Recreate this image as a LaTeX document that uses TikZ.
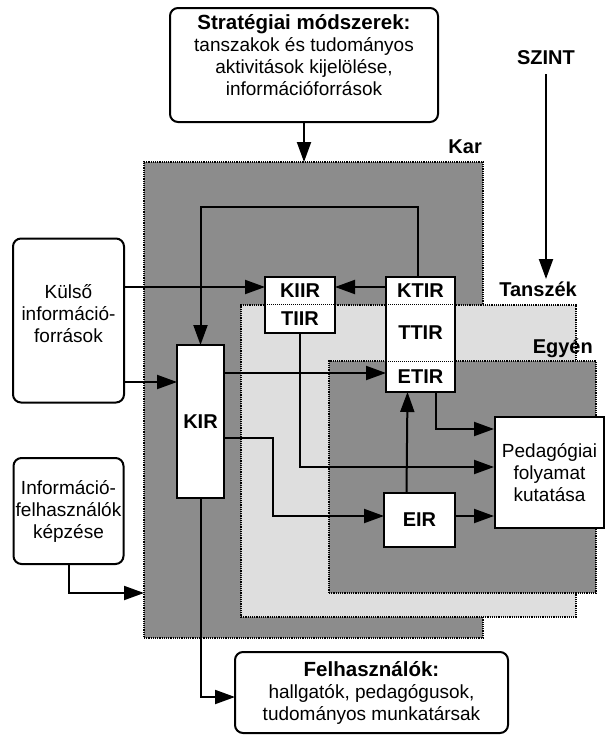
\documentclass[tikz,border=0pt]{standalone}
\usepackage{fontspec}
\setmainfont{Liberation Sans}
\usetikzlibrary{arrows.meta}

\newcommand{\boxhead}[1]{{\bfseries\fontsize{20.5}{22}\selectfont #1}}

\tikzset{
  txt/.style={font=\fontsize{19}{22}\selectfont, align=center, inner sep=0pt},
  srcbox/.style={draw, line width=2pt, rounded corners=8pt, fill=white, inner sep=0pt, outer sep=0pt},
  irbox/.style={fill=white, inner sep=0pt, outer sep=0pt, font=\bfseries\fontsize{20}{22}\selectfont},
  boxline/.style={line width=2pt},
  divider/.style={densely dotted, line width=1pt},
  level/.style={draw, densely dotted, line width=1.2pt, inner sep=0pt, outer sep=0pt},
  levellabel/.style={font=\bfseries\fontsize{20}{22}\selectfont, inner sep=0pt},
  flow/.style={line width=2pt, -{Triangle[length=20pt,width=14pt]}},
}

\begin{document}
\begin{tikzpicture}[x=1pt, y=-1pt]
\useasboundingbox (0,0) rectangle (610,736);

% levels
\node[level, fill=black!45, minimum width=339pt, minimum height=476pt] (kar) at (313.5,400) {};
\node[level, fill=black!13, minimum width=335pt, minimum height=312pt] (tanszek) at (408.5,461) {};
\node[level, fill=black!45, minimum width=267pt, minimum height=232pt] (egyen) at (462.5,477) {};
\node[levellabel, anchor=base east] (karlabel) at (482,153) {Kar};
\node[levellabel, anchor=base east] (tanszeklabel) at (577,296) {Tanszék};
\node[levellabel, anchor=base east] (egyenlabel) at (593,353) {Egyén};
\node[levellabel] (szint) at (546,58) {SZINT};
\coordinate (szintend) at (546,279);

% outer boxes
\node[srcbox, minimum width=268pt, minimum height=114pt] (strat) at (304,65) {};
\node[txt] (strattext) at (304,55) {\boxhead{Stratégiai módszerek:}\\tanszakok és tudományos\\aktivitások kijelölése,\\információforrások};
\node[srcbox, minimum width=111pt, minimum height=164pt] (kulso) at (68.5,320.5) {};
\node[txt] (kulsotext) at (68.5,314) {Külső\\információ-\\források};
\node[srcbox, txt, minimum width=110pt, minimum height=106pt] (kepzes) at (68.5,511) {Információ-\\felhasználók\\képzése};
\node[srcbox, txt, minimum width=273pt, minimum height=81pt] (felh) at (371.5,692.5) {\boxhead{Felhasználók:}\\hallgatók, pedagógusok,\\tudományos munkatársak};
\node[txt, draw, line width=2pt, fill=white, minimum width=109pt, minimum height=111pt] (ped) at (549.5,472.5) {Pedagógiai\\folyamat\\kutatása};

% information systems
\node[irbox, draw, line width=2pt, minimum width=47pt, minimum height=153pt] (kir) at (200.5,421.5) {KIR};
\node[irbox, draw, line width=2pt, minimum width=71pt, minimum height=54pt] (eir) at (419.5,520) {EIR};
\node[irbox, minimum width=70pt, minimum height=27pt] (kiir) at (300,290.5) {KIIR};
\node[irbox, minimum width=70pt, minimum height=29pt] (tiir) at (300,318.5) {TIIR};
\node[irbox, minimum width=69pt, minimum height=27pt] (ktir) at (420.5,290.5) {KTIR};
\node[irbox, minimum width=69pt, minimum height=57pt] (ttir) at (420.5,332.5) {TTIR};
\node[irbox, minimum width=69pt, minimum height=31pt] (etir) at (420.5,376.5) {ETIR};
\draw[boxline] (kiir.north west) rectangle (tiir.south east);
\draw[divider] (kiir.south west) -- (kiir.south east);
\draw[boxline] (ktir.north west) rectangle (etir.south east);
\draw[divider] (ktir.south west) -- (ktir.south east);
\draw[divider] (ttir.south west) -- (ttir.south east);

% flows
\draw[flow] (strat.south) -- (strat.south |- kar.north);
\draw[flow] ([yshift=-9pt]szint.south) -- (szintend);
\draw[flow] (kulso.east |- 0,287) -- (kiir.west |- 0,287);
\draw[flow] (ktir.west |- 0,287) -- (kiir.east |- 0,287);
\draw[flow] ([xshift=-3pt]ktir.north) -- ([xshift=-3pt]ktir.north |- 0,207) -| (kir.north);
\draw[flow] (kulso.east |- 0,382) -- (kir.west |- 0,382);
\draw[flow] (kir.east |- 0,373) -- (etir.west |- 0,373);
\draw[flow] (kir.east |- 0,438) -- (273,438) |- (eir.west |- 0,516);
\draw[flow] ([xshift=-13pt]eir.north) -- ([xshift=-13pt]etir.south);
\draw[flow] (tiir.south) |- (ped.west |- 0,467);
\draw[flow] ([xshift=15pt]etir.south) |- (ped.west |- 0,429);
\draw[flow] (eir.east |- 0,516) -- (ped.west |- 0,516);
\draw[flow] (kepzes.south) |- (kar.west |- 0,593);
\draw[flow] (kir.south) |- (felh.west |- 0,697);
\end{tikzpicture}
\end{document}
